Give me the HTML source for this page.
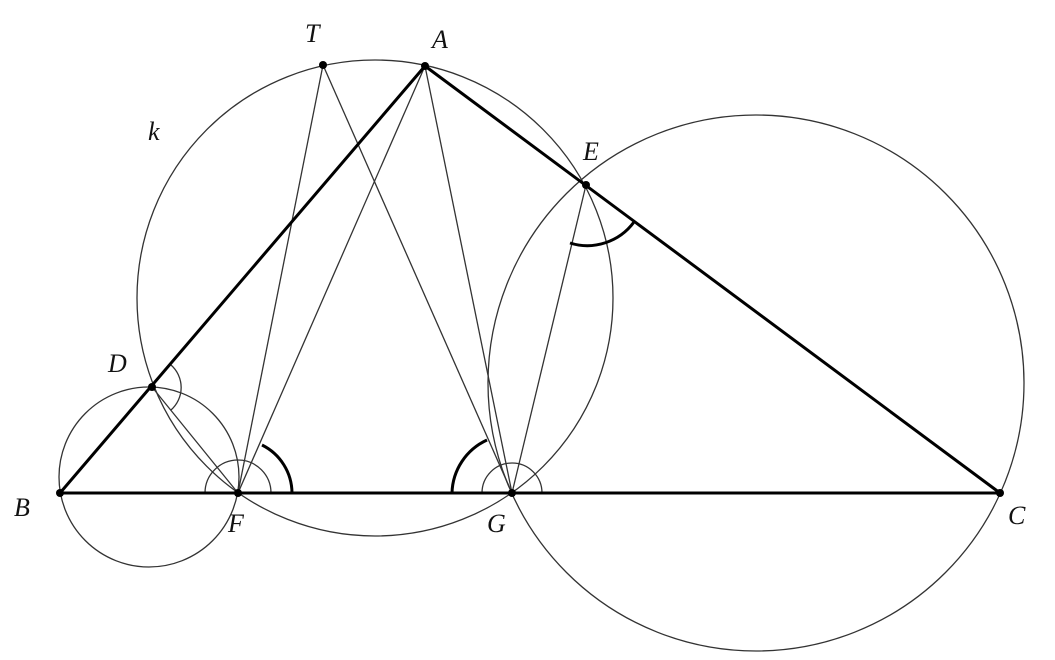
<!DOCTYPE html>
<html><head><style>body{margin:0;background:#fff}svg{display:block}text{font-family:"Liberation Serif",serif;font-style:italic;font-size:26px;fill:#111}</style></head>
<body>
<svg width="1055" height="660" viewBox="0 0 1055 660" xmlns="http://www.w3.org/2000/svg">
<g fill="none" stroke="#333" stroke-width="1.3">
<circle cx="375" cy="298" r="238"/>
<circle cx="149" cy="477" r="90"/>
<circle cx="756" cy="383" r="268"/>
<line x1="323" y1="65" x2="238" y2="493"/>
<line x1="323" y1="65" x2="512" y2="493"/>
<line x1="425" y1="66" x2="238" y2="493"/>
<line x1="425" y1="66" x2="512" y2="493"/>
<line x1="586" y1="185" x2="512" y2="493"/>
<line x1="152" y1="387" x2="238" y2="493"/>
<path d="M171,365 A30,30 0 0 1 171,410"/>
<path d="M205,493 A33,33 0 0 1 271,493"/>
<path d="M482,493 A30,30 0 0 1 542,493"/>
</g>
<g fill="none" stroke="#000" stroke-width="3">
<line x1="60" y1="493" x2="425" y2="66"/>
<line x1="425" y1="66" x2="1000" y2="493"/>
<line x1="60" y1="493" x2="1000" y2="493"/>
<path d="M292,493 A54,54 0 0 0 262,445"/>
<path d="M452,493 A60,60 0 0 1 487,440"/>
<path d="M570,243 A58,58 0 0 0 634,222"/>
</g>
<g fill="#000">
<circle cx="60" cy="493" r="4"/><circle cx="238" cy="493" r="4"/><circle cx="512" cy="493" r="4"/><circle cx="1000" cy="493" r="4"/>
<circle cx="425" cy="66" r="4"/><circle cx="323" cy="65" r="4"/><circle cx="586" cy="185" r="4"/><circle cx="152" cy="387" r="4"/>
</g>
<text x="305" y="42">T</text><text x="432" y="48">A</text><text x="583" y="160">E</text>
<text x="148" y="140">k</text><text x="108" y="372">D</text><text x="14" y="516">B</text>
<text x="228" y="532">F</text><text x="487" y="532">G</text><text x="1008" y="524">C</text>
</svg>
</body></html>
